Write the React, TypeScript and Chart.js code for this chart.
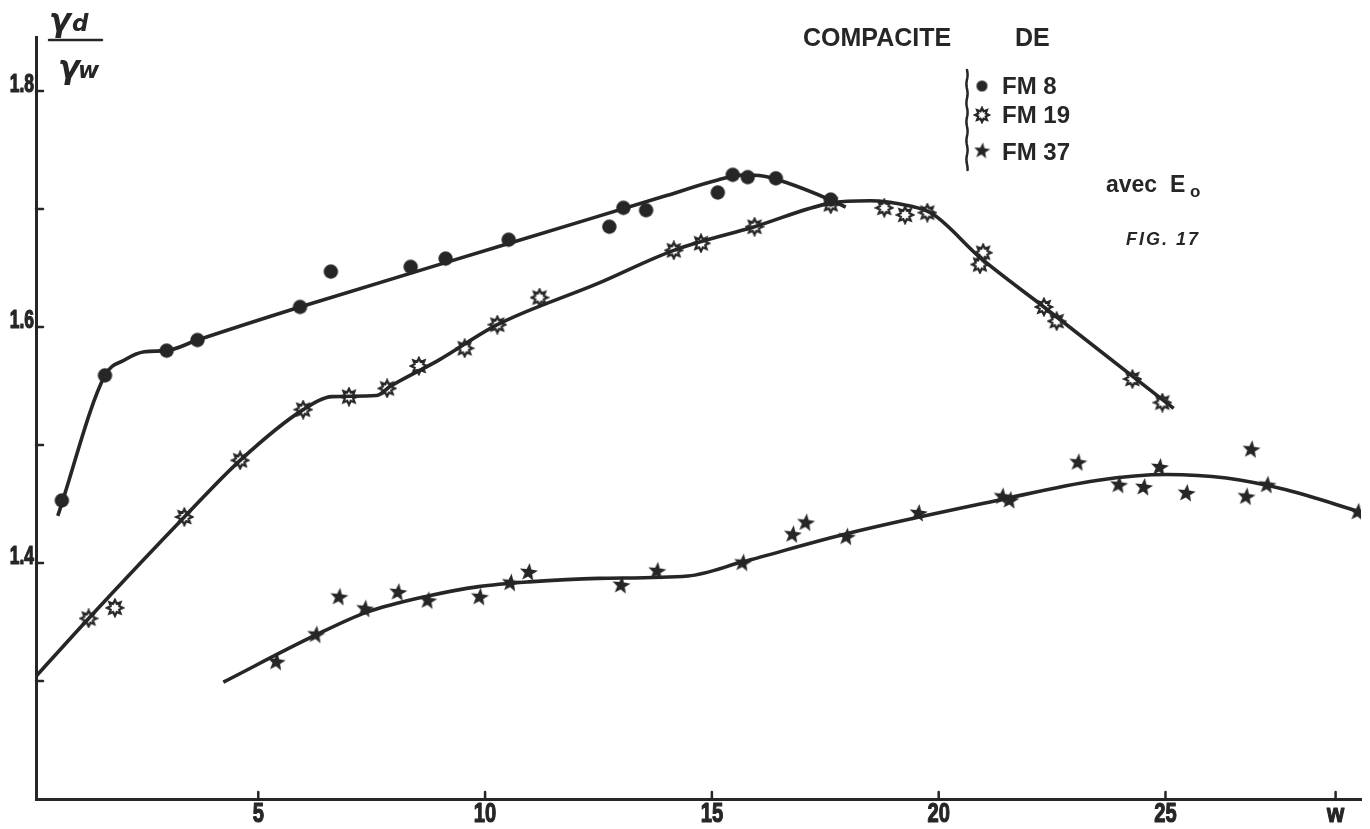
import { useEffect, useRef } from 'react';
import { Chart, registerables } from 'chart.js';

Chart.register(...registerables);

// ---- data -------------------------------------------------------------
const SERIES_LABELS = ['FM 8', 'FM 19', 'FM 37'];

// measured points: water content w and dry density ratio γd / γw
const FM8_W = [0.67, 1.62, 2.98, 3.66, 5.92, 6.6, 8.36, 9.13, 10.52, 12.74, 13.05, 13.55, 15.13, 15.46, 15.79, 16.41, 17.62];
const FM8_R = [1.453, 1.559, 1.58, 1.589, 1.617, 1.647, 1.651, 1.658, 1.674, 1.685, 1.701, 1.699, 1.714, 1.729, 1.727, 1.726, 1.708];

const FM19_W = [1.26, 1.84, 3.37, 4.6, 5.99, 7.0, 7.84, 8.54, 9.55, 10.27, 11.2, 14.16, 14.76, 15.94, 17.62, 18.8, 19.26, 19.75, 20.98, 20.91, 22.32, 22.6, 24.27, 24.93];
const FM19_R = [1.353, 1.362, 1.439, 1.487, 1.53, 1.541, 1.548, 1.567, 1.582, 1.602, 1.625, 1.665, 1.671, 1.685, 1.704, 1.701, 1.695, 1.697, 1.663, 1.653, 1.617, 1.605, 1.556, 1.536];

const FM37_W = [5.4, 6.27, 6.78, 7.35, 8.08, 8.74, 9.88, 10.56, 10.96, 13.0, 13.79, 15.68, 16.78, 17.07, 17.97, 19.55, 21.4, 21.57, 23.07, 23.97, 24.52, 24.87, 25.46, 26.78, 26.89, 27.24, 29.24];
const FM37_R = [1.316, 1.339, 1.371, 1.361, 1.375, 1.368, 1.371, 1.383, 1.392, 1.381, 1.393, 1.4, 1.424, 1.434, 1.422, 1.442, 1.456, 1.453, 1.485, 1.466, 1.464, 1.481, 1.459, 1.456, 1.496, 1.466, 1.443];

// hand-fitted compaction curves
const FM8_CURVE_W = [0.58, 1.62, 2.05, 2.49, 2.98, 3.66, 5.92, 10.5, 14.0, 15.13, 15.68, 16.12, 16.67, 17.62, 17.95];
const FM8_CURVE_R = [1.44, 1.559, 1.572, 1.579, 1.58, 1.589, 1.617, 1.6705, 1.7114, 1.7246, 1.7288, 1.728, 1.722, 1.7076, 1.7017];

const FM19_CURVE_W = [0.03, 1.26, 3.37, 4.6, 5.99, 6.63, 7.6, 7.92, 8.98, 10.27, 12.49, 14.16, 15.94, 17.62, 18.49, 19.31, 19.86, 20.91, 22.32, 25.18];
const FM19_CURVE_R = [1.301, 1.353, 1.439, 1.487, 1.53, 1.541, 1.542, 1.55, 1.572, 1.602, 1.637, 1.665, 1.685, 1.705, 1.707, 1.703, 1.696, 1.659, 1.617, 1.531];

const FM37_CURVE_W = [4.23, 6.27, 7.37, 8.74, 9.86, 10.96, 12.49, 14.47, 15.68, 17.99, 21.29, 23.48, 25.02, 26.34, 27.66, 29.31];
const FM37_CURVE_R = [1.299, 1.339, 1.358, 1.372, 1.38, 1.384, 1.387, 1.389, 1.401, 1.425, 1.453, 1.47, 1.475, 1.472, 1.462, 1.443];

// axes
const X_MIN = 0.1;
const X_MAX = 29.31;
const Y_MIN = 1.2;
const Y_MAX = 1.8458;
const X_TICKS = [5, 10, 15, 20, 25, 28.75];
const X_TICK_LABELS = ['5', '10', '15', '20', '25', 'w'];
const Y_LABELLED = [1.4, 1.6, 1.8];
const Y_MARKS = [1.3, 1.4, 1.5, 1.6, 1.7, 1.8];

// ---- styling ----------------------------------------------------------
const INK = '#262626';
const SANS = '"Liberation Sans", Arial, "DejaVu Sans", sans-serif';

const pts = (xs: number[], ys: number[]) => xs.map((x, i) => ({ x, y: ys[i] }));

function makeDot(r: number): HTMLCanvasElement {
  const c = document.createElement('canvas');
  const s = Math.ceil(r * 2 + 4);
  c.width = c.height = s;
  const g = c.getContext('2d')!;
  g.fillStyle = INK;
  g.beginPath();
  g.arc(s / 2, s / 2, r, 0, Math.PI * 2);
  g.fill();
  return c;
}

function makeOpenStar(outer: number, inner: number): HTMLCanvasElement {
  const c = document.createElement('canvas');
  const s = Math.ceil(outer * 2 + 4);
  c.width = c.height = s;
  const g = c.getContext('2d')!;
  g.translate(s / 2, s / 2);
  g.beginPath();
  for (let i = 0; i < 16; i++) {
    const r = i % 2 === 0 ? outer : inner;
    const a = (i * Math.PI) / 8 - Math.PI / 2;
    const px = Math.cos(a) * r;
    const py = Math.sin(a) * r;
    if (i === 0) g.moveTo(px, py);
    else g.lineTo(px, py);
  }
  g.closePath();
  g.lineWidth = 2.2;
  g.strokeStyle = INK;
  g.stroke();
  return c;
}

function makeSolidStar(outer: number, inner: number): HTMLCanvasElement {
  const c = document.createElement('canvas');
  const s = Math.ceil(outer * 2 + 4);
  c.width = c.height = s;
  const g = c.getContext('2d')!;
  g.translate(s / 2, s / 2);
  g.rotate(0.12);
  g.beginPath();
  for (let i = 0; i < 10; i++) {
    const r = i % 2 === 0 ? outer : inner;
    const a = (i * Math.PI) / 5 - Math.PI / 2;
    const px = Math.cos(a) * r;
    const py = Math.sin(a) * r;
    if (i === 0) g.moveTo(px, py);
    else g.lineTo(px, py);
  }
  g.closePath();
  g.fillStyle = INK;
  g.fill();
  return c;
}

// condensed lettering: text squeezed horizontally around its anchor, with a
// thin outline to keep the strokes heavy
function narrowText(ctx: CanvasRenderingContext2D, text: string, x: number, y: number, squeeze: number) {
  ctx.save();
  ctx.translate(x, y);
  ctx.scale(squeeze, 1);
  ctx.lineWidth = 1.2;
  ctx.lineJoin = 'round';
  ctx.strokeText(text, 0, 0);
  ctx.fillText(text, 0, 0);
  ctx.restore();
}

export default function App() {
  const ref = useRef<HTMLCanvasElement | null>(null);

  useEffect(() => {
    if (!ref.current) return;

    const dot = makeDot(7.2);
    const openStar = makeOpenStar(8, 4.6);
    const solidStar = makeSolidStar(9.5, 4);
    const legendMarks = [makeDot(5.5), makeOpenStar(7, 4), makeSolidStar(8.5, 3.6)];

    const decorations = {
      id: 'decorations',
      afterDraw(chart: Chart) {
        const { ctx, chartArea } = chart;
        const xs = chart.scales.x;
        const ys = chart.scales.y;
        ctx.save();
        ctx.strokeStyle = INK;
        ctx.fillStyle = INK;
        ctx.lineCap = 'round';

        // inner tick marks
        ctx.lineWidth = 2.5;
        X_TICKS.forEach((v) => {
          const px = xs.getPixelForValue(v);
          ctx.beginPath();
          ctx.moveTo(px, chartArea.bottom);
          ctx.lineTo(px, chartArea.bottom - 7);
          ctx.stroke();
        });
        Y_MARKS.forEach((v) => {
          const py = ys.getPixelForValue(v);
          ctx.beginPath();
          ctx.moveTo(chartArea.left, py);
          ctx.lineTo(chartArea.left + 7, py);
          ctx.stroke();
        });

        // tick labels in condensed lettering
        ctx.textAlign = 'center';
        ctx.textBaseline = 'alphabetic';
        X_TICKS.forEach((v, i) => {
          const px = xs.getPixelForValue(v);
          const isUnit = X_TICK_LABELS[i] === 'w';
          ctx.font = isUnit ? `bold 26px ${SANS}` : `bold 28px ${SANS}`;
          narrowText(ctx, X_TICK_LABELS[i], px, chartArea.bottom + 23, isUnit ? 0.85 : 0.72);
        });
        ctx.font = `bold 25px ${SANS}`;
        ctx.textAlign = 'right';
        Y_LABELLED.forEach((v) => {
          const py = ys.getPixelForValue(v);
          narrowText(ctx, v.toFixed(1), chartArea.left - 2, py + 1, 0.7);
        });

        // axis title γd / γw
        ctx.textAlign = 'left';
        ctx.font = `italic bold 32px "DejaVu Sans", sans-serif`;
        ctx.fillText('γ', 49, 31);
        ctx.font = `italic bold 23px "DejaVu Sans", sans-serif`;
        ctx.fillText('d', 72, 31);
        ctx.lineWidth = 2.5;
        ctx.beginPath();
        ctx.moveTo(49, 40);
        ctx.lineTo(102, 40);
        ctx.stroke();
        ctx.font = `italic bold 32px "DejaVu Sans", sans-serif`;
        ctx.fillText('γ', 58, 78);
        ctx.font = `italic bold 23px "DejaVu Sans", sans-serif`;
        ctx.fillText('w', 78, 78);

        // heading
        ctx.font = `bold 25px ${SANS}`;
        ctx.fillText('COMPACITE', 803, 46);
        ctx.fillText('DE', 1015, 46);

        // bracket
        ctx.lineWidth = 2.5;
        ctx.beginPath();
        for (let y = 70; y <= 170; y += 2) {
          const x = 967 + Math.sin((y - 70) / 3) * 0.6;
          if (y === 70) ctx.moveTo(x, y);
          else ctx.lineTo(x, y);
        }
        ctx.stroke();

        // legend entries
        const rows = [86, 115, 151];
        const baselines = [94, 123, 160];
        ctx.font = `bold 24px ${SANS}`;
        SERIES_LABELS.forEach((label, i) => {
          const m = legendMarks[i];
          ctx.drawImage(m, 982 - m.width / 2, rows[i] - m.height / 2);
          ctx.fillText(label, 1002, baselines[i]);
        });

        // avec E0
        ctx.font = `bold 23px ${SANS}`;
        ctx.fillText('avec  E', 1106, 192);
        ctx.font = `bold 17px ${SANS}`;
        ctx.fillText('o', 1190, 197);

        // figure number
        ctx.font = `italic bold 18px ${SANS}`;
        (ctx as any).letterSpacing = '2px';
        ctx.fillText('FIG. 17', 1126, 245);
        (ctx as any).letterSpacing = '0px';

        ctx.restore();
      },
    };

    const curve = (xs: number[], ys: number[], label: string) => ({
      type: 'line' as const,
      label,
      data: pts(xs, ys),
      borderColor: INK,
      borderWidth: 3.6,
      pointRadius: 0,
      fill: false,
      cubicInterpolationMode: 'monotone' as const,
      order: 2,
    });

    const marks = (xs: number[], ys: number[], label: string, style: HTMLCanvasElement) => ({
      type: 'scatter' as const,
      label,
      data: pts(xs, ys),
      pointStyle: style,
      pointRadius: 8,
      showLine: false,
      order: 1,
    });

    const chart = new Chart(ref.current, {
      type: 'scatter',
      data: {
        datasets: [
          curve(FM8_CURVE_W, FM8_CURVE_R, SERIES_LABELS[0] + ' courbe'),
          curve(FM19_CURVE_W, FM19_CURVE_R, SERIES_LABELS[1] + ' courbe'),
          curve(FM37_CURVE_W, FM37_CURVE_R, SERIES_LABELS[2] + ' courbe'),
          marks(FM8_W, FM8_R, SERIES_LABELS[0], dot),
          marks(FM19_W, FM19_R, SERIES_LABELS[1], openStar),
          marks(FM37_W, FM37_R, SERIES_LABELS[2], solidStar),
        ] as any,
      },
      options: {
        animation: false,
        responsive: false,
        devicePixelRatio: 1,
        layout: { padding: { left: 0, right: 5, top: 37, bottom: 0 } },
        plugins: {
          legend: { display: false },
          tooltip: { enabled: false },
        },
        scales: {
          x: {
            type: 'linear',
            min: X_MIN,
            max: X_MAX,
            grid: { display: false, drawTicks: false },
            border: { display: true, color: INK, width: 3 },
            afterBuildTicks: (scale: any) => {
              scale.ticks = X_TICKS.map((v) => ({ value: v }));
            },
            afterFit: (scale: any) => {
              scale.height = 30;
            },
            ticks: { display: false },
          },
          y: {
            type: 'linear',
            min: Y_MIN,
            max: Y_MAX,
            grid: { display: false, drawTicks: false },
            border: { display: true, color: INK, width: 3 },
            afterFit: (scale: any) => {
              scale.width = 36;
            },
            ticks: { display: false, stepSize: 0.1 },
          },
        },
      },
      plugins: [decorations],
    });

    return () => chart.destroy();
  }, []);

  return (
    <div style={{ position: 'fixed', left: 0, top: 0, width: 1370, height: 829, background: '#ffffff' }}>
      <canvas ref={ref} width={1370} height={829} style={{ display: 'block' }} />
    </div>
  );
}
